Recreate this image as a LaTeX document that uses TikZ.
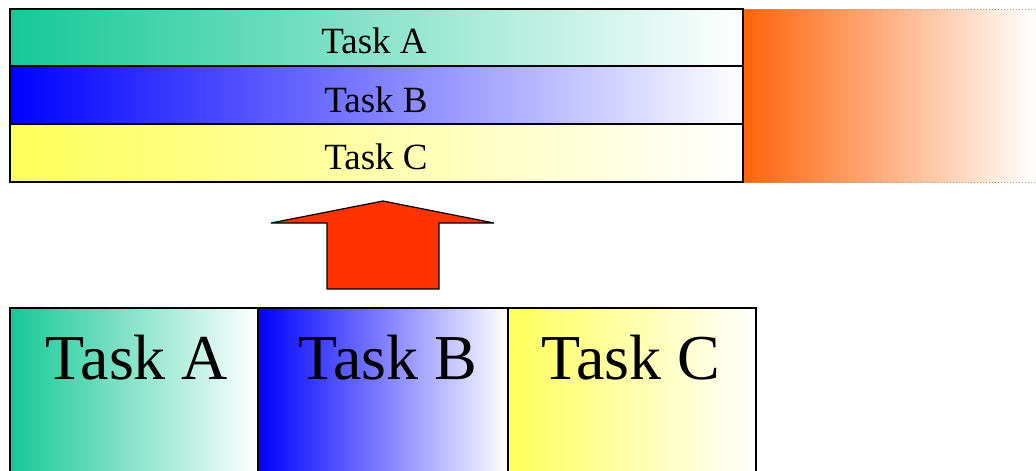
\documentclass[tikz,border=0pt]{standalone}
\usepackage{fontspec}
\setmainfont{LiberationSerif-Regular.ttf}
\definecolor{tealc}{RGB}{22,200,150}
\definecolor{bluec}{RGB}{0,0,255}
\definecolor{yelc}{RGB}{255,255,90}
\definecolor{orngc}{RGB}{255,100,10}
\definecolor{arrowc}{RGB}{255,51,0}
\begin{document}
\begin{tikzpicture}[x=1pt,y=-1pt,
  boxline/.style={draw=black,line width=1.6pt},
  smalltxt/.style={anchor=base,inner sep=0pt,font=\rmfamily\fontsize{37}{40}\selectfont},
  bigtxt/.style={anchor=base,inner sep=0pt,font=\rmfamily\fontsize{64}{70}\selectfont}]
\useasboundingbox (0,0) rectangle (1036,471);
\clip (0,0) rectangle (1036,471);
% orange region
\shade[left color=orngc, right color=white] (743,9) rectangle (1036,182);
\draw[gray!70,dotted,line width=1pt] (743,9) -- (1036,9);
\draw[gray!70,dotted,line width=1pt] (743,182) -- (1036,182);
% top stacked boxes
\shade[left color=tealc, right color=white] (10,9) rectangle (743,66);
\shade[left color=bluec, right color=white] (10,66) rectangle (743,124);
\shade[left color=yelc, right color=white] (10,124) rectangle (743,182);
\draw[boxline] (10,9) rectangle (743,182);
\draw[boxline] (10,66) -- (743,66);
\draw[boxline] (10,124) -- (743,124);
\node[smalltxt] (ta) at (374,53) {Task A};
\node[smalltxt] (tb) at (376,112) {Task B};
\node[smalltxt] (tc) at (376,169) {Task C};
% arrow
\draw[fill=arrowc,line width=1.2pt,line join=miter]
  (383,201) -- (494,223) -- (439,223) -- (439,289) -- (327,289) -- (327,223) -- (271,223) -- cycle;
% bottom boxes
\shade[left color=tealc, right color=white] (10,308) rectangle (258,480);
\shade[left color=bluec, right color=white] (258,308) rectangle (508,480);
\shade[left color=yelc, right color=white] (508,308) rectangle (756,480);
\draw[draw=black,line width=1.4pt] (10,480) -- (10,308) -- (756,308) -- (756,480);
\draw[draw=black,line width=1.4pt] (258,308) -- (258,480);
\draw[draw=black,line width=1.4pt] (508,308) -- (508,480);
\node[bigtxt] (ba) at (137,379) {Task A};
\node[bigtxt] (bb) at (388,379) {Task B};
\node[bigtxt] (bc) at (631,379) {Task C};
\end{tikzpicture}
\end{document}
